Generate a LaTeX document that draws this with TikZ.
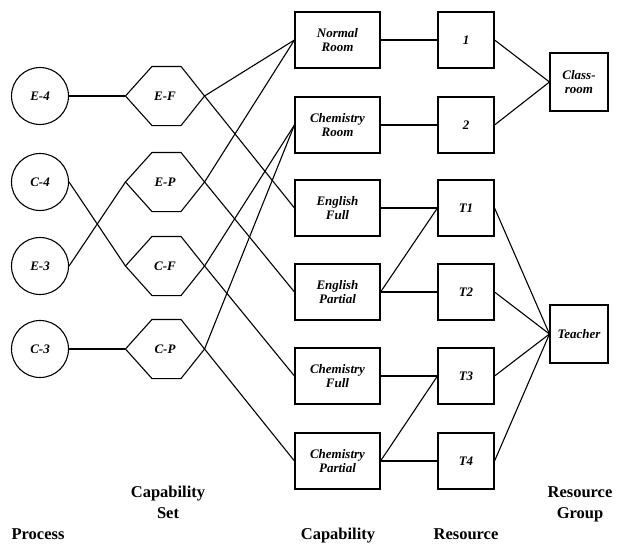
\documentclass[tikz,border=0pt]{standalone}
\usepackage{fontspec}
\setmainfont{Liberation Serif}
\begin{document}
\begin{tikzpicture}[x=1pt,y=-1pt,line width=1.1pt,
  every node/.style={font=\fontsize{13}{13.5}\selectfont\bfseries\itshape, align=center, inner sep=0pt},
  proc/.style={draw, circle, minimum size=57pt},
  hexa/.style={minimum width=78pt, minimum height=58pt},
  capbox/.style={draw, minimum width=85pt, minimum height=56pt},
  resbox/.style={draw, minimum width=56pt, minimum height=56pt},
  grpbox/.style={draw, minimum width=58pt, minimum height=58pt},
  collabel/.style={font=\fontsize{16.5}{21}\selectfont\bfseries, anchor=base}]
\useasboundingbox (0,0) rectangle (620,543);
% processes
\node[proc] (E4) at (40,96) {E-4};
\node[proc] (C4) at (40,182) {C-4};
\node[proc] (E3) at (40,266) {E-3};
\node[proc] (C3) at (40,349) {C-3};
% capability sets
\node[hexa] (EF) at (165,96) {E-F};
\node[hexa] (EP) at (165,182) {E-P};
\node[hexa] (CF) at (165,266) {C-F};
\node[hexa] (CP) at (165,349) {C-P};
\foreach \n in {EF,EP,CF,CP}
  \draw (\n.west) -- ([xshift=-13pt]\n.north) -- ([xshift=16pt]\n.north) -- (\n.east)
        -- ([xshift=16pt]\n.south) -- ([xshift=-13pt]\n.south) -- cycle;
% capabilities
\node[capbox] (NR) at (337.5,40) {Normal\\Room};
\node[capbox] (CR) at (337.5,125) {Chemistry\\Room};
\node[capbox] (EFu) at (337.5,208) {English\\Full};
\node[capbox] (EPa) at (337.5,292) {English\\Partial};
\node[capbox] (CFu) at (337.5,376) {Chemistry\\Full};
\node[capbox] (CPa) at (337.5,461) {Chemistry\\Partial};
% resources
\node[resbox] (R1) at (466,40) {1};
\node[resbox] (R2) at (466,125) {2};
\node[resbox] (T1) at (466,208) {T1};
\node[resbox] (T2) at (466,292) {T2};
\node[resbox] (T3) at (466,376) {T3};
\node[resbox] (T4) at (466,461) {T4};
% groups
\node[grpbox] (CL) at (579,82) {Class-\\room};
\node[grpbox] (TE) at (579,334) {Teacher};
% connectors
\draw (E4.east) -- (EF.west);
\draw (C4.east) -- (CF.west);
\draw (E3.east) -- (EP.west);
\draw (C3.east) -- (CP.west);
\draw (EF.east) -- (NR.west);
\draw (EF.east) -- (EFu.west);
\draw (EP.east) -- (NR.west);
\draw (EP.east) -- (EPa.west);
\draw (CF.east) -- (CR.west);
\draw (CF.east) -- (CFu.west);
\draw (CP.east) -- (CR.west);
\draw (CP.east) -- (CPa.west);
\draw (NR.east) -- (R1.west);
\draw (CR.east) -- (R2.west);
\draw (EFu.east) -- (T1.west);
\draw (EPa.east) -- (T1.west);
\draw (EPa.east) -- (T2.west);
\draw (CFu.east) -- (T3.west);
\draw (CPa.east) -- (T3.west);
\draw (CPa.east) -- (T4.west);
\draw (R1.east) -- (CL.west);
\draw (R2.east) -- (CL.west);
\foreach \t in {T1,T2,T3,T4} \draw (\t.east) -- (TE.west);
% column labels
\node[collabel] (L1) at (38,539) {Process};
\node[collabel] (L2) at (168,518) {Capability\\Set};
\node[collabel] (L3) at (338,539) {Capability};
\node[collabel] (L4) at (466,539) {Resource};
\node[collabel] (L5) at (580,518) {Resource\\Group};
\end{tikzpicture}
\end{document}
